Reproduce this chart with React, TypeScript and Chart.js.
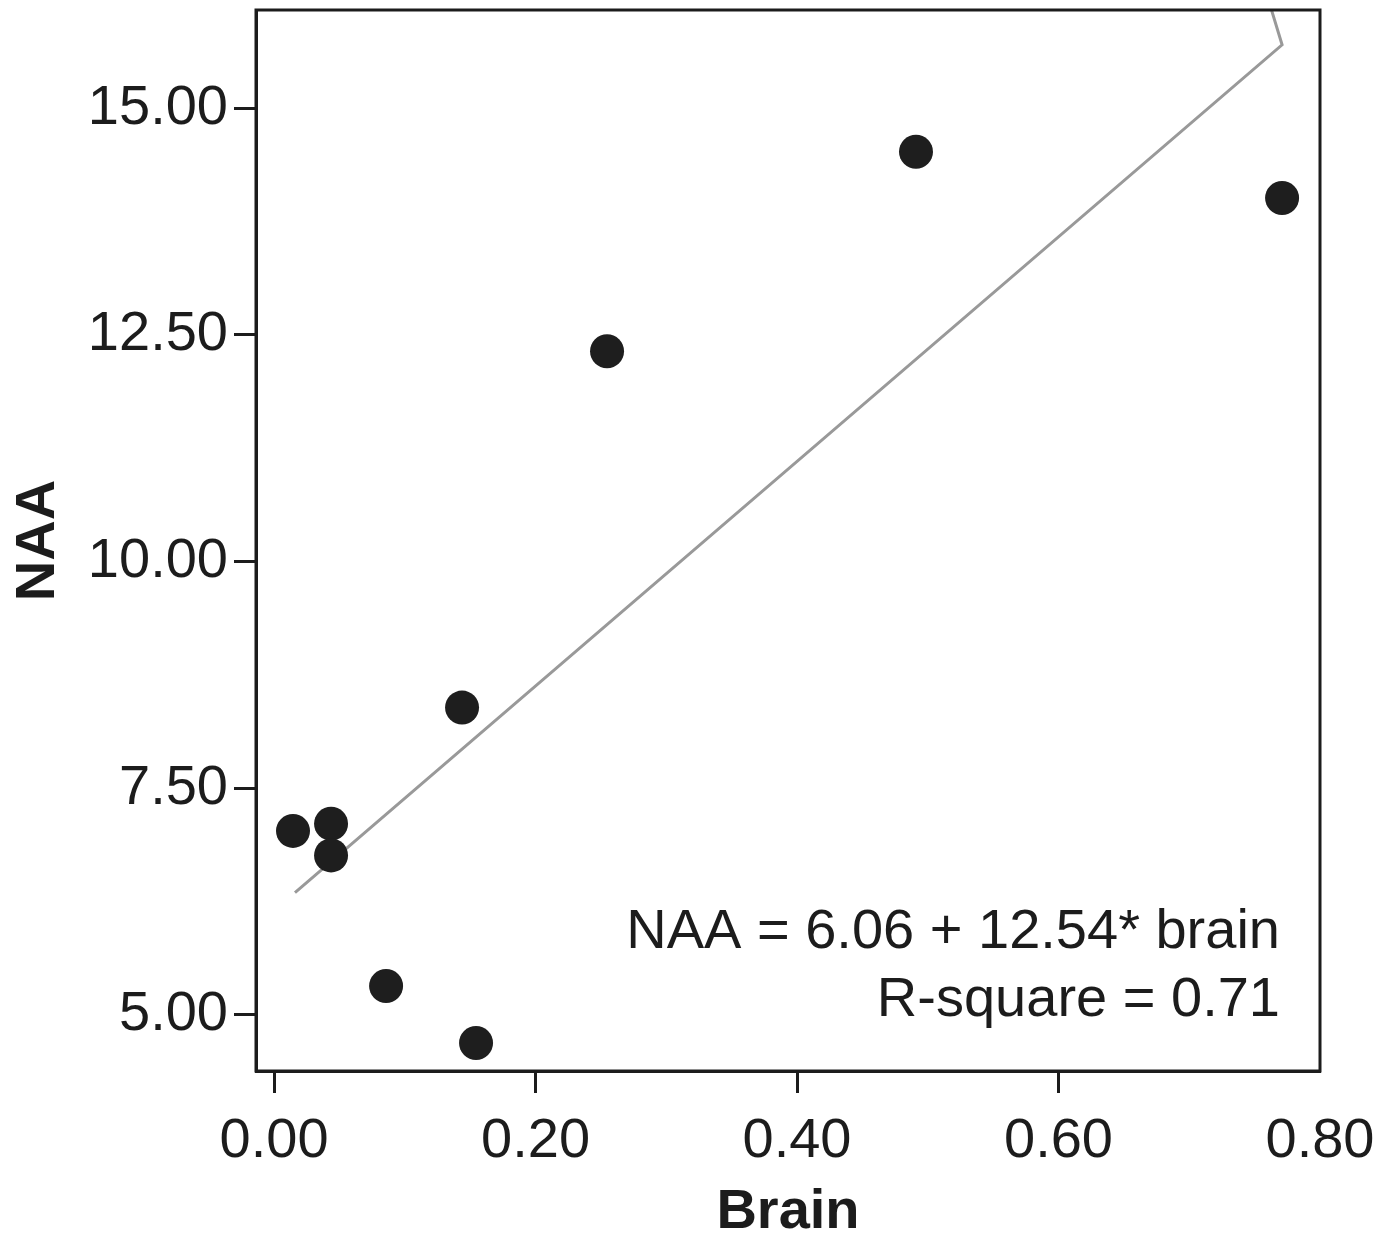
import React, { useEffect, useRef } from "react";
import { Chart, registerables } from "chart.js";

Chart.register(...registerables);

// Data
const brainValues = [0.0145, 0.0436, 0.0436, 0.0857, 0.1545, 0.1438, 0.2547, 0.491, 0.771];
const naaValues = [7.03, 7.11, 6.76, 5.32, 4.69, 8.39, 12.32, 14.52, 14.01];

const fitBrain = [0.016, 0.771, 0.763];
const fitNaa = [6.35, 15.7, 16.08];

const xTicks = [0, 0.2, 0.4, 0.6, 0.8];
const yTicks = [5, 7.5, 10, 12.5, 15];

const annotationLines = ["NAA = 6.06 + 12.54* brain", "R-square = 0.71"];

const FONT = "'Liberation Sans', Arial, Helvetica, sans-serif";
const INK = "#1c1c1c";

const boxPlugin = {
  id: "boxAndNote",
  afterDatasetsDraw(chart: any) {
    const { ctx, chartArea } = chart;
    ctx.save();
    ctx.strokeStyle = INK;
    ctx.lineWidth = 3;
    ctx.strokeRect(chartArea.left, chartArea.top, chartArea.right - chartArea.left, chartArea.bottom - chartArea.top);
    ctx.fillStyle = INK;
    ctx.font = `56px ${FONT}`;
    ctx.textAlign = "right";
    ctx.textBaseline = "middle";
    const rx = chartArea.right - 40;
    ctx.fillText(annotationLines[0], rx, chartArea.bottom - 138);
    ctx.fillText(annotationLines[1], rx, chartArea.bottom - 70);
    ctx.restore();
  },
};

export default function App() {
  const ref = useRef<HTMLCanvasElement | null>(null);

  useEffect(() => {
    document.body.style.margin = "0";
    const canvas = ref.current;
    if (!canvas) return;
    const chart = new Chart(canvas, {
      type: "scatter",
      data: {
        datasets: [
          {
            type: "line",
            data: fitBrain.map((x, i) => ({ x, y: fitNaa[i] })),
            borderColor: "#999999",
            borderWidth: 3,
            pointRadius: 0,
            showLine: true,
            fill: false,
            tension: 0,
            order: 2,
          } as any,
          {
            type: "scatter",
            data: brainValues.map((x, i) => ({ x, y: naaValues[i] })),
            backgroundColor: "#1e1e1e",
            borderColor: "#1e1e1e",
            borderWidth: 0,
            pointRadius: 17,
            order: 1,
          },
        ],
      },
      options: {
        responsive: false,
        animation: false,
        layout: { autoPadding: false, padding: { top: 10, right: 60, left: 0, bottom: 0 } },
        plugins: { legend: { display: false }, tooltip: { enabled: false } },
        scales: {
          x: {
            type: "linear",
            min: -0.0138,
            max: 0.8,
            afterBuildTicks: (scale: any) => {
              scale.ticks = xTicks.map((v) => ({ value: v }));
            },
            afterFit: (scale: any) => {
              scale.height = 170;
              scale.paddingLeft = 0;
              scale.paddingRight = 0;
            },
            ticks: {
              color: INK,
              padding: 15,
              maxRotation: 0,
              autoSkip: false,
              font: { family: FONT, size: 56 },
              callback: (v: any) => Number(v).toFixed(2),
            },
            grid: {
              drawOnChartArea: false,
              drawTicks: true,
              tickLength: 22,
              tickWidth: 3,
              tickColor: (ctx: any) => (ctx.tick && ctx.tick.value === 0.8 ? "rgba(0,0,0,0)" : INK),
            },
            border: { display: true, color: INK, width: 3 },
            title: {
              display: true,
              text: "Brain",
              color: INK,
              font: { family: FONT, size: 56, weight: "bold", lineHeight: 1 },
              padding: { top: 0, bottom: 0 },
            },
          },
          y: {
            type: "linear",
            min: 4.382,
            max: 16.084,
            afterBuildTicks: (scale: any) => {
              scale.ticks = yTicks.map((v) => ({ value: v }));
            },
            afterFit: (scale: any) => {
              scale.width = 256;
              scale.paddingTop = 0;
              scale.paddingBottom = 0;
            },
            ticks: {
              color: INK,
              padding: 6,
              autoSkip: false,
              font: { family: FONT, size: 56 },
              callback: (v: any) => Number(v).toFixed(2),
            },
            grid: {
              drawOnChartArea: false,
              drawTicks: true,
              tickLength: 22,
              tickWidth: 3,
              tickColor: INK,
            },
            border: { display: true, color: INK, width: 3 },
            title: {
              display: true,
              text: "NAA",
              color: INK,
              font: { family: FONT, size: 56, weight: "bold", lineHeight: 1 },
              padding: { top: 11, bottom: 0 },
            },
          },
        },
      },
      plugins: [boxPlugin],
    });
    return () => chart.destroy();
  }, []);

  return (
    <div style={{ width: 1380, height: 1241, background: "#fff" }}>
      <canvas ref={ref} width={1380} height={1241} />
    </div>
  );
}
